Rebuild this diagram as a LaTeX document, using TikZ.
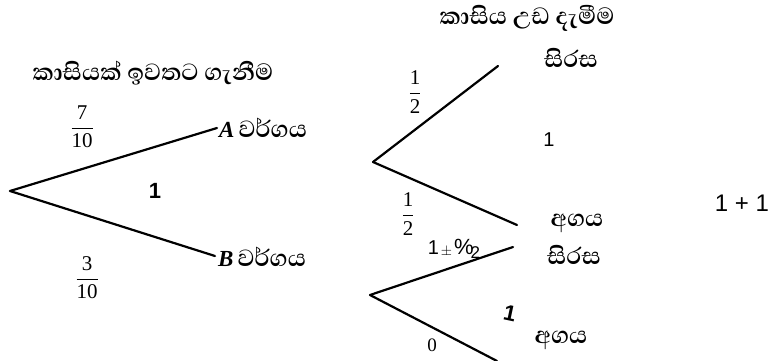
\documentclass[tikz,border=0pt]{standalone}
\usepackage{fontspec}
\setmainfont{Liberation Serif}
\newfontfamily\sinhfont[Script=Sinhala]{Abhaya Libre}
\newfontfamily\sansf{Liberation Sans}
\newcommand{\myfrac}[2]{\ensuremath{\displaystyle\frac{\hbox{#1}}{\hbox{#2}}}}
\newcommand{\fsz}[1]{\fontsize{#1}{#1}\selectfont}
\begin{document}
\begin{tikzpicture}[x=1pt,y=-1pt,
  branch/.style={line width=2.2pt, line cap=round},
  sin/.style={inner sep=0pt, font=\sinhfont\bfseries\fontsize{30}{34}\selectfont},
  num/.style={inner sep=0pt, font=\fontsize{21}{25}\selectfont},
  onemark/.style={inner sep=0pt, font=\sansf\bfseries\fontsize{22}{24}\selectfont}]
\useasboundingbox (0,0) rectangle (779,361);
\fill[white] (0,0) rectangle (779,361);

% headings
\node[sin] (h1) at (153,73) {කාසියක් ඉවතට ගැනීම};
\node[sin] (h2) at (527,18) {කාසිය උඩ දැමීම};

% left tree
\coordinate (L0) at (10,191);
\coordinate (LA) at (217,128);
\coordinate (LB) at (215,256);
\draw[branch] (L0) -- (LA);
\draw[branch] (L0) -- (LB);
\node[sin, anchor=west] (A) at (219,128) {{\rmfamily\bfseries\itshape\fsz{23}A}\hspace{4pt}වර්ගය};
\node[sin, anchor=west] (B) at (218,257) {{\rmfamily\bfseries\itshape\fsz{23}B}\hspace{4pt}වර්ගය};
\node[num] (f1) at (82,127) {\myfrac{7}{10}};
\node[num] (f2) at (87,278) {\myfrac{3}{10}};
\node[onemark] (m1) at (155,191) {1};

% upper right tree
\coordinate (R1) at (373,162);
\coordinate (R1a) at (498,66);
\coordinate (R1b) at (517,225);
\draw[branch] (R1) -- (R1a);
\draw[branch] (R1) -- (R1b);
\node[num] (f3) at (415,92) {\myfrac{1}{2}};
\node[num] (f4) at (408,214) {\myfrac{1}{2}};
\node[sin] (s1) at (571,58) {සිරස};
\node[sin] (a1) at (577,223) {අගය};
\node[inner sep=0pt, font=\sansf\fontsize{20}{22}\selectfont] (m2) at (549,140) {1};

% lower right tree
\coordinate (R2) at (370,295);
\coordinate (R2a) at (513,247);
\coordinate (R2b) at (497,361);
\draw[branch] (R2) -- (R2a);
\draw[branch] (R2) -- (R2b);
\node[inner sep=0pt, font=\sansf] (p) at (454,249) {\fsz{20}1\kern2pt\raisebox{-1pt}{\fsz{14}\bfseries$\pm$}\kern2pt\fsz{22}\%\kern-3pt\raisebox{-4pt}{\fsz{17}2}};
\node[sin] (s2) at (574,255) {සිරස};
\node[sin] (a2) at (561,340) {අගය};
\node[onemark, rotate=-12] (m3) at (510,313) {1};
\node[inner sep=0pt, font=\fontsize{19}{22}\selectfont] (z) at (432,345) {0};

% sum
\node[inner sep=0pt, font=\sansf\fontsize{24}{28}\selectfont] (sum) at (742,203) {1 + 1};
\end{tikzpicture}
\end{document}
